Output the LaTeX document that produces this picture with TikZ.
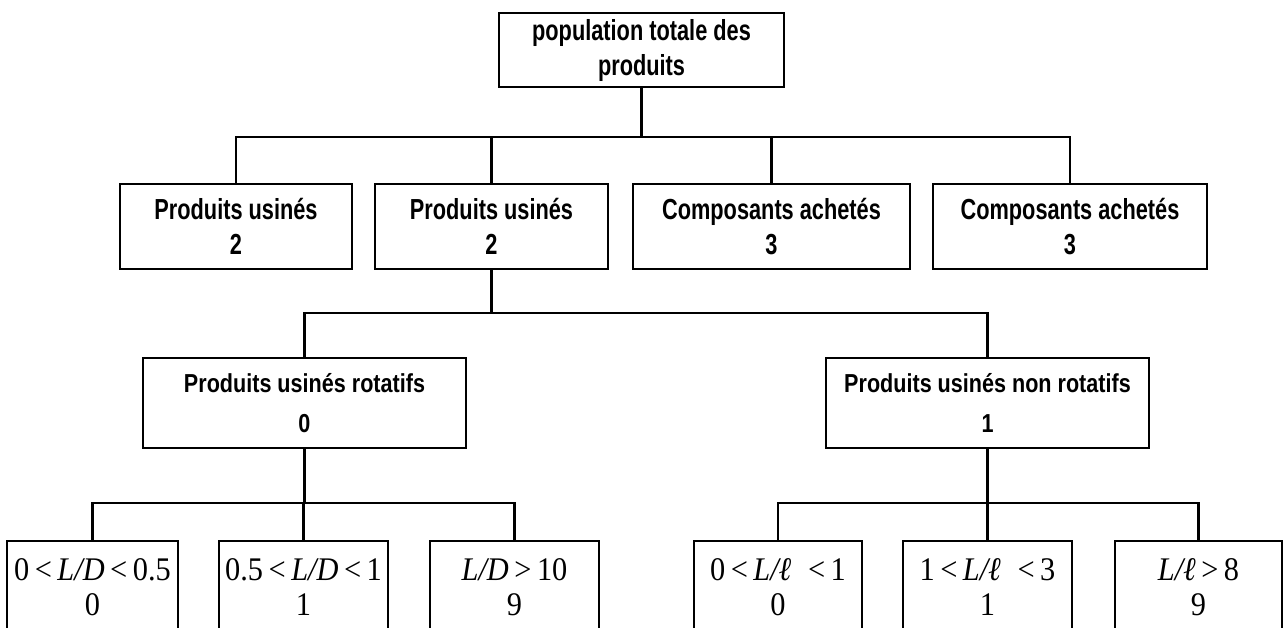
\documentclass[tikz,border=0pt]{standalone}
\usepackage{fontspec}
\setmainfont{Liberation Serif}
\newfontfamily\condsans[FakeStretch=0.75]{Liberation Sans}
\newfontfamily\midsans[FakeStretch=0.83]{Liberation Sans}
\newfontfamily\leafserif[FakeStretch=0.92]{Liberation Serif}
\begin{document}
\begin{tikzpicture}[x=1pt,y=-1pt,
  box/.style={draw, rectangle, line width=2.6pt, inner sep=0pt, align=center},
  head/.style={box, font=\condsans\bfseries\fontsize{29}{35}\selectfont},
  mid/.style={box, minimum width=323pt, minimum height=90pt,
              font=\midsans\bfseries\fontsize{26}{40}\selectfont},
  leaf/.style={box, minimum height=93pt, font=\leafserif\fontsize{33}{35}\selectfont},
  link/.style={line width=2.6pt}]
\useasboundingbox (0,0) rectangle (1283,627);
\clip (0,0) rectangle (1283,627);

% root
\node[head, minimum width=285pt, minimum height=74pt] (top) at (641.5,50)
  {population totale des\\produits};

% first level
\node[head, minimum width=232pt, minimum height=85pt] (p1) at (236,226.5)
  {Produits usinés\\2};
\node[head, minimum width=233pt, minimum height=85pt] (p2) at (491.5,226.5)
  {Produits usinés\\2};
\node[head, minimum width=277pt, minimum height=85pt] (c3) at (771.5,226.5)
  {Composants achetés\\3};
\node[head, minimum width=274pt, minimum height=85pt] (c4) at (1070,226.5)
  {Composants achetés\\3};

% second level
\node[mid] (r0) at (304.5,403) {Produits usinés rotatifs\\0};
\node[mid] (n1) at (987.5,403) {Produits usinés non rotatifs\\1};

% ratio classes
\node[leaf, minimum width=171pt] (l1) at (92.5,587.5)
  {0\,<\,\textit{L/D}\,<\,0.5\\0};
\node[leaf, minimum width=169pt] (l2) at (303.5,587.5)
  {0.5\,<\,\textit{L/D}\,<\,1\\1};
\node[leaf, minimum width=169pt] (l3) at (514.5,587.5)
  {\textit{L/D}\,>\,10\\9};
\node[leaf, minimum width=168pt] (m1) at (778,587.5)
  {0\,<\,\textit{L/ℓ}\; <\,1\\0};
\node[leaf, minimum width=169pt] (m2) at (987.5,587.5)
  {1\,<\,\textit{L/ℓ}\; <\,3\\1};
\node[leaf, minimum width=167pt] (m3) at (1198.5,587.5)
  {\textit{L/ℓ}\,>\,8\\9};

% bus lines
\coordinate (bus1) at (0,137);
\coordinate (bus2) at (0,313);
\coordinate (bus3) at (0,503);

\draw[link] (top.south) -- (top.south |- bus1);
\draw[link] (p1.north) |- (bus1 -| c4.north) -- (c4.north);
\draw[link] (p2.north) -- (p2.north |- bus1);
\draw[link] (c3.north) -- (c3.north |- bus1);

\draw[link] (p2.south) -- (p2.south |- bus2);
\draw[link] (r0.north) |- (bus2 -| n1.north) -- (n1.north);

\draw[link] (r0.south) -- (r0.south |- bus3);
\draw[link] (l1.north) |- (bus3 -| l3.north) -- (l3.north);
\draw[link] (l2.north) -- (l2.north |- bus3);

\draw[link] (n1.south) -- (n1.south |- bus3);
\draw[link] (m1.north) |- (bus3 -| m3.north) -- (m3.north);
\draw[link] (m2.north) -- (m2.north |- bus3);
\end{tikzpicture}
\end{document}
